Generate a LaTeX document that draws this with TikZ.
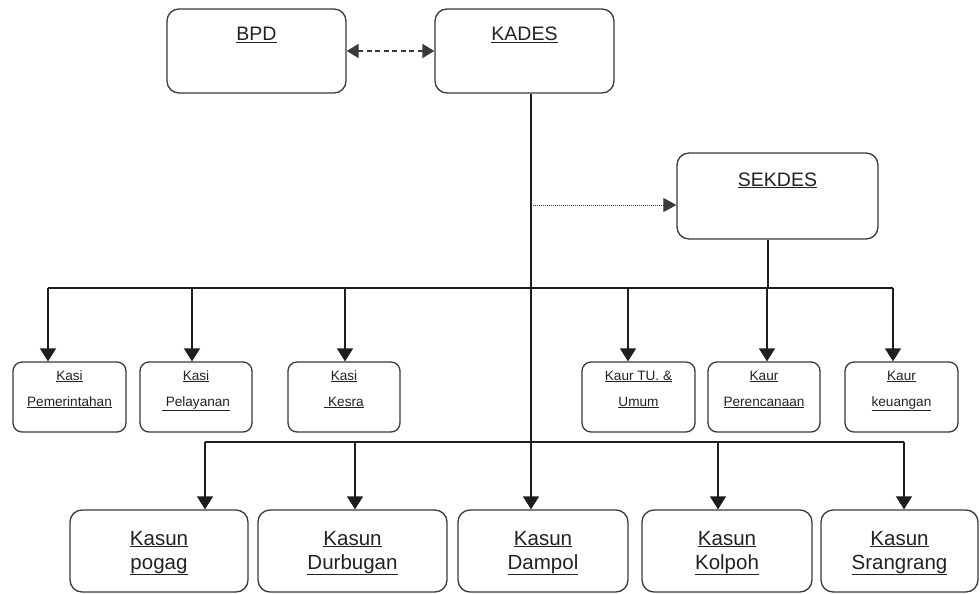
\documentclass[tikz,border=0pt]{standalone}
\usepackage{fontspec}
\setmainfont{Liberation Sans}
\usetikzlibrary{arrows.meta}
\definecolor{boxgray}{HTML}{3A3A3A}
\definecolor{linegray}{HTML}{1E1E1E}
\definecolor{txt}{HTML}{222222}
\begin{document}
\begin{tikzpicture}[x=1pt,y=-1pt,
  bigbox/.style={draw=boxgray, line width=1.3pt, rounded corners=12pt, inner sep=0pt, fill=white},
  smallbox/.style={draw=boxgray, line width=1.3pt, rounded corners=9pt, inner sep=0pt, fill=white},
  toptxt/.style={text=txt, anchor=base, inner sep=0pt, font=\fontsize{19.5}{23}\selectfont},
  midtxt/.style={text=txt, anchor=base, inner sep=0pt, align=center, font=\fontsize{13.6}{26}\selectfont},
  bottxt/.style={text=txt, anchor=base, inner sep=0pt, align=center, font=\fontsize{20.5}{24}\selectfont},
  conn/.style={draw=linegray, line width=1.4pt},
  arr/.style={conn, -{Triangle[length=13pt,width=16pt]}},
]
\useasboundingbox[fill=white] (0,0) rectangle (980,594);

% top boxes
\node[bigbox, minimum width=179pt, minimum height=84pt] (BPD) at (256.5,51) {};
\node[bigbox, minimum width=179pt, minimum height=84pt] (KADES) at (524.5,51) {};
\node[bigbox, minimum width=201pt, minimum height=86pt] (SEKDES) at (777.5,196) {};
\node[toptxt] (tBPD) at (256.5,41) {\underline{BPD}};
\node[toptxt] (tKADES) at (524.5,41) {\underline{KADES}};
\node[toptxt] (tSEKDES) at (777.5,186) {\underline{SEKDES}};

% middle boxes
\node[smallbox, minimum width=113pt, minimum height=70pt] (KP) at (69.5,397) {};
\node[smallbox, minimum width=112pt, minimum height=70pt] (KPl) at (196,397) {};
\node[smallbox, minimum width=112pt, minimum height=70pt] (KK) at (344,397) {};
\node[smallbox, minimum width=113pt, minimum height=70pt] (KT) at (638.5,397) {};
\node[smallbox, minimum width=112pt, minimum height=70pt] (KPr) at (764,397) {};
\node[smallbox, minimum width=113pt, minimum height=70pt] (KKe) at (901.5,397) {};
\node[midtxt] (tKP) at (69.5,406) {\underline{Kasi}\\\underline{Pemerintahan}};
\node[midtxt] (tKPl) at (196,406) {\underline{Kasi}\\\underline{\ Pelayanan}};
\node[midtxt] (tKK) at (344,406) {\underline{Kasi}\\\underline{\ Kesra}};
\node[midtxt] (tKT) at (638.5,406) {\underline{Kaur TU. \&}\\\underline{Umum}};
\node[midtxt] (tKPr) at (764,406) {\underline{Kaur}\\\underline{Perencanaan}};
\node[midtxt] (tKKe) at (901.5,406) {\underline{Kaur}\\\underline{keuangan}};

% bottom boxes
\node[bigbox, minimum width=178pt, minimum height=82pt] (KSp) at (159,551) {};
\node[bigbox, minimum width=189pt, minimum height=82pt] (KSd) at (352.5,551) {};
\node[bigbox, minimum width=170pt, minimum height=82pt] (KSm) at (543,551) {};
\node[bigbox, minimum width=170pt, minimum height=82pt] (KSk) at (727,551) {};
\node[bigbox, minimum width=157pt, minimum height=82pt] (KSs) at (899.5,551) {};
\node[bottxt] (tKSp) at (159,569) {\underline{Kasun}\\\underline{pogag}};
\node[bottxt] (tKSd) at (352.5,569) {\underline{Kasun}\\\underline{Durbugan}};
\node[bottxt] (tKSm) at (543,569) {\underline{Kasun}\\\underline{Dampol}};
\node[bottxt] (tKSk) at (727,569) {\underline{Kasun}\\\underline{Kolpoh}};
\node[bottxt] (tKSs) at (899.5,569) {\underline{Kasun}\\\underline{Srangrang}};

% coordinates
\coordinate (kx) at (531,0);
\coordinate (sx) at (768,0);
\coordinate (dot) at (531,205);
\coordinate (t1) at (48,288);
\coordinate (t2) at (192,288);
\coordinate (t3) at (345,288);
\coordinate (t4) at (628,288);
\coordinate (t5) at (767,288);
\coordinate (t6) at (893,288);
\coordinate (b1) at (205,442);
\coordinate (b2) at (355,442);
\coordinate (b4) at (718,442);
\coordinate (b5) at (904,442);

% BPD <-> KADES
\draw[draw=boxgray, line width=1.5pt, dash pattern=on 5pt off 3.5pt,
  {Triangle[length=12pt,width=14pt]}-{Triangle[length=12pt,width=14pt]}]
  (BPD.east) -- (KADES.west);

% KADES vertical to Dampol
\draw[arr] (kx |- KADES.south) -- (kx |- KSm.north);
% dotted to SEKDES
\draw[draw=boxgray, line width=0.9pt, dash pattern=on 1pt off 1pt,
  -{Triangle[length=13pt,width=14pt]}] (dot) -- (dot -| SEKDES.west);
% SEKDES down to bus
\draw[conn] (sx |- SEKDES.south) -- (sx |- t5);

% top bus
\draw[conn] (t1) -- (t6);
\draw[arr] (t1) -- (t1 |- KP.north);
\draw[arr] (t2) -- (t2 |- KPl.north);
\draw[arr] (t3) -- (t3 |- KK.north);
\draw[arr] (t4) -- (t4 |- KT.north);
\draw[arr] (t5) -- (t5 |- KPr.north);
\draw[arr] (t6) -- (t6 |- KKe.north);

% bottom bus
\draw[conn] (b1) -- (b5);
\draw[arr] (b1) -- (b1 |- KSp.north);
\draw[arr] (b2) -- (b2 |- KSd.north);
\draw[arr] (b4) -- (b4 |- KSk.north);
\draw[arr] (b5) -- (b5 |- KSs.north);
\end{tikzpicture}
\end{document}
